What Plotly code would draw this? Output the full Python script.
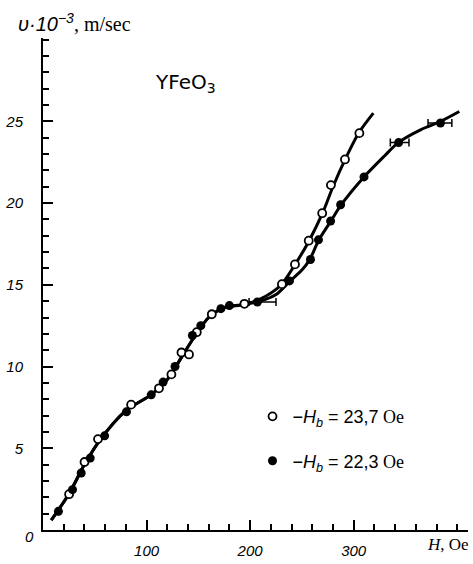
import plotly.graph_objects as go

# Open circles: H_b = 23,7 Oe
open_x = [25.2, 40.1, 53.1, 85.1, 112, 124, 133.7, 141, 148.5, 163, 194.5, 230.7, 243.3, 256.6, 269.6, 278, 291.6, 305.5]
open_y = [2.19, 4.16, 5.56, 7.67, 8.67, 9.52, 10.86, 10.74, 12.1, 13.2, 13.84, 15.04, 16.25, 17.7, 19.38, 21.1, 22.67, 24.28]

# Filled circles: H_b = 22,3 Oe
fill_x = [14.9, 28.5, 36.9, 45.6, 59.5, 80.6, 104.5, 116, 127.5, 144.3, 152.4, 171.8, 180, 207, 238, 258.3, 266, 277.7, 287.4, 310, 343.4, 383.8]
fill_y = [1.14, 2.47, 3.49, 4.40, 5.76, 7.23, 8.27, 9.05, 10.0, 11.9, 12.5, 13.54, 13.73, 13.95, 15.24, 16.55, 17.75, 18.9, 19.9, 21.6, 23.7, 24.9]
fill_err_plus = [0]*13 + [18] + [0]*6 + [10, 11]
fill_err_minus = [0]*13 + [8] + [0]*6 + [8, 12]

# Smooth curves drawn through the points
open_curve_x = [8, 25, 40, 55, 80, 105, 120, 135, 147, 160, 175, 195, 215, 230, 243, 257, 270, 280, 292, 305, 319]
open_curve_y = [0.6, 2.2, 4.0, 5.5, 7.3, 8.3, 9.2, 10.7, 11.9, 13.0, 13.6, 13.8, 14.3, 15.0, 16.2, 17.7, 19.4, 21.0, 22.7, 24.3, 25.5]
fill_curve_x = [8, 25, 40, 55, 80, 105, 120, 135, 147, 160, 175, 195, 210, 225, 238, 250, 258, 266, 278, 288, 310, 330, 343, 365, 384, 402]
fill_curve_y = [0.6, 2.2, 4.0, 5.5, 7.3, 8.3, 9.2, 10.7, 11.9, 13.0, 13.6, 13.8, 14.0, 14.4, 15.2, 15.9, 16.6, 17.7, 18.9, 19.9, 21.6, 22.9, 23.7, 24.5, 25.0, 25.6]

x_tickvals = [100, 200, 300]
x_ticktext = ["<i>100</i>", "<i>200</i>", "<i>300</i>"]
y_tickvals = [5, 10, 15, 20, 25]
y_ticktext = ["<i>5</i>", "<i>10</i>", "<i>15</i>", "<i>20</i>", "<i>25</i>"]

fig = go.Figure()
fig.add_trace(go.Scatter(x=open_curve_x, y=open_curve_y, mode="lines",
                         line=dict(color="black", width=3, shape="spline", smoothing=0.8),
                         showlegend=False, hoverinfo="skip"))
fig.add_trace(go.Scatter(x=fill_curve_x, y=fill_curve_y, mode="lines",
                         line=dict(color="black", width=3, shape="spline", smoothing=0.8),
                         showlegend=False, hoverinfo="skip"))
fig.add_trace(go.Scatter(x=open_x, y=open_y, mode="markers",
                         marker=dict(symbol="circle", size=8, color="white",
                                     line=dict(color="black", width=1.8)),
                         name="<span style='font-family:Liberation Sans'>−<i>H</i><sub><i>b</i></sub> = 23,7</span> Oe",
                         legendgroup="a"))
fig.add_trace(go.Scatter(x=fill_x, y=fill_y, mode="markers",
                         marker=dict(symbol="circle", size=9, color="black"),
                         error_x=dict(type="data", array=fill_err_plus, arrayminus=fill_err_minus,
                                      color="black", thickness=1.5, width=4),
                         name="<span style='font-family:Liberation Sans'>−<i>H</i><sub><i>b</i></sub> = 22,3</span> Oe",
                         legendgroup="b"))

tickfont = dict(family="Liberation Sans", size=15, color="black")

def px_x(px):
    return (px - 42) / 426

def px_y(py):
    return (538 - py) / 500

fig.update_layout(
    width=473, height=564,
    margin=dict(l=42, r=5, t=38, b=26),
    paper_bgcolor="white", plot_bgcolor="white",
    font=dict(family="Liberation Serif", size=16, color="black"),
    showlegend=True,
    legend=dict(x=px_x(252), y=px_y(404), xanchor="left", yanchor="top",
                bgcolor="rgba(0,0,0,0)", tracegroupgap=18, traceorder="grouped",
                font=dict(family="Liberation Serif", size=18, color="black"),
                itemwidth=30),
    xaxis=dict(range=[0, 410.4], showgrid=False, zeroline=False, showline=True,
               linecolor="black", linewidth=2, ticks="inside", ticklen=10, tickwidth=1.5,
               tickcolor="black", tickvals=x_tickvals, ticktext=x_ticktext,
               tickfont=tickfont, ticklabelstandoff=6,
               minor=dict(ticks="inside", dtick=20, tick0=0, ticklen=6, tickwidth=1.5, tickcolor="black")),
    yaxis=dict(range=[0, 30.1], showgrid=False, zeroline=False, showline=True,
               linecolor="black", linewidth=2, ticks="inside", ticklen=10, tickwidth=1.5,
               tickcolor="black", tickvals=y_tickvals, ticktext=y_ticktext,
               tickfont=tickfont, ticklabelstandoff=15,
               minor=dict(ticks="inside", dtick=1, tick0=0, ticklen=6, tickwidth=1.5, tickcolor="black")),
    annotations=[
        dict(x=px_x(15), y=px_y(22), xref="paper", yref="paper", xanchor="left", yanchor="middle",
             showarrow=False,
             text="<span style='font-family:Liberation Sans'><i>υ·10</i><sup><i>−3</i></sup></span>, m/sec",
             font=dict(family="Liberation Serif", size=20, color="black")),
        dict(x=px_x(152), y=px_y(84), xref="paper", yref="paper", xanchor="left", yanchor="middle",
             showarrow=False, text="YFeO<sub>3</sub>",
             font=dict(family="DejaVu Sans", size=20, color="black")),
        dict(x=px_x(28), y=px_y(545), xref="paper", yref="paper", xanchor="center", yanchor="middle",
             showarrow=False, text="<i>0</i>",
             font=dict(family="Liberation Sans", size=15, color="black")),
        dict(x=px_x(471), y=px_y(553), xref="paper", yref="paper", xanchor="right", yanchor="middle",
             showarrow=False, text="<i>H</i>, Oe",
             font=dict(family="Liberation Serif", size=17, color="black")),
    ],
)

fig.write_html("out.html")
